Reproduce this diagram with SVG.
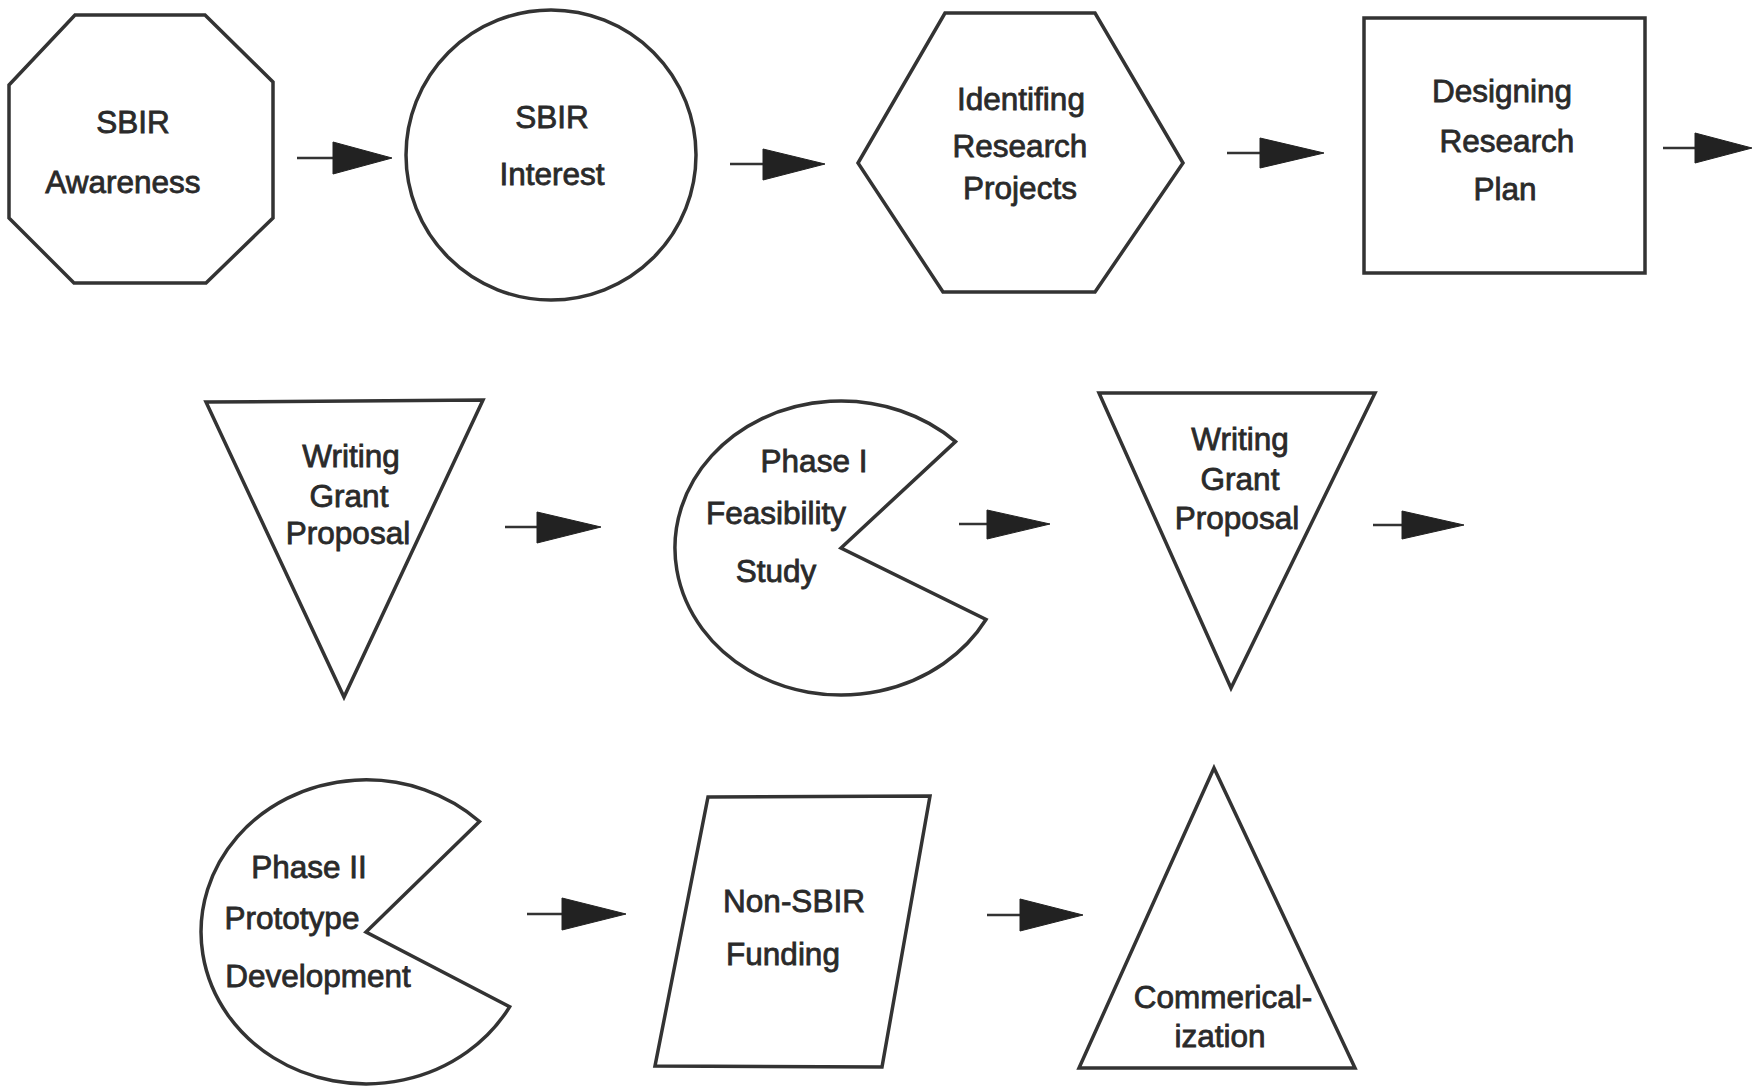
<svg xmlns="http://www.w3.org/2000/svg" width="1752" height="1088" viewBox="0 0 1752 1088">
<style>
  .shape { fill: #ffffff; stroke: #333333; stroke-width: 3.5; stroke-linejoin: miter; }
  .lbl { font-family: "Liberation Sans", Arial, Helvetica, sans-serif; font-size: 31.5px; fill: #2a2a2a; stroke: #2a2a2a; stroke-width: 0.8; text-anchor: middle; }
  .shaft { stroke: #333333; stroke-width: 2.5; fill: none; }
  .head { fill: #222222; stroke: #222222; stroke-width: 1; stroke-linejoin: miter; }
</style>
<rect x="0" y="0" width="1752" height="1088" fill="#ffffff"/>

<g id="connectors">
  <line class="shaft" x1="297" y1="158" x2="333" y2="158"/>
  <polygon class="head" points="333,142 333,174 392,158"/>
  <line class="shaft" x1="730" y1="164" x2="763" y2="164"/>
  <polygon class="head" points="763,149 763,180 825,164"/>
  <line class="shaft" x1="1227" y1="153" x2="1260" y2="153"/>
  <polygon class="head" points="1260,138 1260,168 1324,153"/>
  <line class="shaft" x1="1663" y1="148" x2="1695" y2="148"/>
  <polygon class="head" points="1695,133 1695,163 1752,148"/>
  <line class="shaft" x1="505" y1="527" x2="537" y2="527"/>
  <polygon class="head" points="537,512 537,543 601,527"/>
  <line class="shaft" x1="959" y1="524" x2="987" y2="524"/>
  <polygon class="head" points="987,510 987,539 1050,524"/>
  <line class="shaft" x1="1373" y1="525" x2="1402" y2="525"/>
  <polygon class="head" points="1402,511 1402,539 1464,525"/>
  <line class="shaft" x1="527" y1="914" x2="562" y2="914"/>
  <polygon class="head" points="562,898 562,930 626,914"/>
  <line class="shaft" x1="987" y1="915" x2="1020" y2="915"/>
  <polygon class="head" points="1020,899 1020,931 1083,915"/>
</g>

<g id="sbir-awareness">
  <polygon class="shape" points="75,15 205,15 273,82 273,218 206,283 74,283 9,218 9,85"/>
  <text class="lbl" x="133" y="133">SBIR</text>
  <text class="lbl" x="123" y="193">Awareness</text>
</g>

<g id="sbir-interest">
  <ellipse class="shape" cx="551" cy="155" rx="145" ry="145"/>
  <text class="lbl" x="552" y="128">SBIR</text>
  <text class="lbl" x="552" y="185">Interest</text>
</g>

<g id="identifying-projects">
  <polygon class="shape" points="945,13 1095,13 1183,163 1095,292 943,292 858,163"/>
  <text class="lbl" x="1021" y="110">Identifing</text>
  <text class="lbl" x="1020" y="157">Research</text>
  <text class="lbl" x="1020" y="199">Projects</text>
</g>

<g id="designing-plan">
  <rect class="shape" x="1364" y="18" width="281" height="255"/>
  <text class="lbl" x="1502" y="102">Designing</text>
  <text class="lbl" x="1507" y="152">Research</text>
  <text class="lbl" x="1505" y="200">Plan</text>
</g>

<g id="writing-proposal-1">
  <polygon class="shape" points="206,402 483,400 344,697"/>
  <text class="lbl" x="351" y="467">Writing</text>
  <text class="lbl" x="349" y="507">Grant</text>
  <text class="lbl" x="348" y="544">Proposal</text>
</g>

<g id="phase-1">
  <path class="shape" d="M 955.5 441.6 L 841 548 L 986 619.5 A 166 147 0 1 1 955.5 441.6 Z"/>
  <text class="lbl" x="814" y="472">Phase I</text>
  <text class="lbl" x="776" y="524">Feasibility</text>
  <text class="lbl" x="776" y="582">Study</text>
</g>

<g id="writing-proposal-2">
  <polygon class="shape" points="1099,393 1375,393 1231,688"/>
  <text class="lbl" x="1240" y="450">Writing</text>
  <text class="lbl" x="1240" y="490">Grant</text>
  <text class="lbl" x="1237" y="529">Proposal</text>
</g>

<g id="phase-2">
  <path class="shape" d="M 479.5 821.5 L 366 932 L 509.6 1006.8 A 165 152 0 1 1 479.5 821.5 Z"/>
  <text class="lbl" x="309" y="878">Phase II</text>
  <text class="lbl" x="292" y="929">Prototype</text>
  <text class="lbl" x="318" y="987">Development</text>
</g>

<g id="non-sbir-funding">
  <polygon class="shape" points="708,797 930,796 882,1067 655,1066"/>
  <text class="lbl" x="794" y="912">Non-SBIR</text>
  <text class="lbl" x="783" y="965">Funding</text>
</g>

<g id="commercialization">
  <polygon class="shape" points="1214,768 1355,1068 1079,1068"/>
  <text class="lbl" x="1223" y="1008">Commerical-</text>
  <text class="lbl" x="1220" y="1047">ization</text>
</g>
</svg>
